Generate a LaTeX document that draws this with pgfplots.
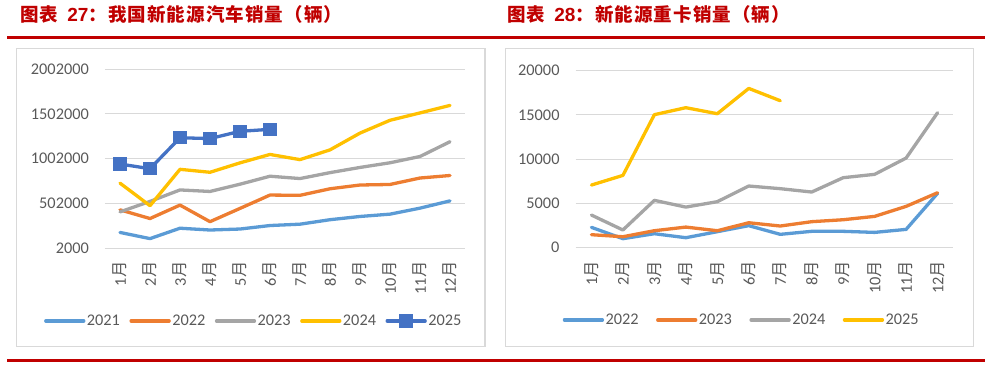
\documentclass[border=0pt]{standalone}
\usepackage{pgfplots}
\pgfplotsset{compat=1.18}
\usepackage{fontspec}
\setmainfont{Carlito}
\newfontfamily\cjk{Noto Sans CJK SC}
\newfontfamily\cjkt{Noto Sans CJK SC}[LetterSpace=6]
\newfontfamily\arialb{Liberation Sans}
\definecolor{titlered}{HTML}{C00000}
\definecolor{boxgray}{HTML}{D9D9D9}
\definecolor{gridgray}{HTML}{D9D9D9}
\definecolor{txtgray}{HTML}{595959}
\definecolor{cA}{HTML}{5B9BD5}
\definecolor{cB}{HTML}{ED7D31}
\definecolor{cC}{HTML}{A5A5A5}
\definecolor{cD}{HTML}{FFC000}
\definecolor{cE}{HTML}{4472C4}
\pgfplotsset{
  common/.style={
    scale only axis, anchor=south west,
    xmin=0.5, xmax=12.5,
    xtick={1,...,12},
    xticklabels={1{\cjk 月},2{\cjk 月},3{\cjk 月},4{\cjk 月},5{\cjk 月},6{\cjk 月},7{\cjk 月},8{\cjk 月},9{\cjk 月},10{\cjk 月},11{\cjk 月},12{\cjk 月}},
    axis line style={draw=none},
    tick style={draw=none},
    major tick length=0pt,
    ymajorgrids,
    grid style={color=gridgray, line width=1pt},
    scaled y ticks=false,
    ticklabel style={font=\fontsize{16.3}{18}\selectfont, text=txtgray, inner sep=0pt},
    xticklabel style={rotate=90, anchor=east},
    xticklabel shift=13pt,
    yticklabel style={anchor=east},
    yticklabel shift=16pt,
    legend columns=5,
    legend cell align=left,
    legend image code/.code={\draw[mark repeat=2,mark phase=2,#1] plot coordinates {(0pt,0pt) (19pt,0pt) (38pt,0pt)};},
    every axis plot/.append style={line width=3.3pt, line join=round, line cap=round},
  }
}
\begin{document}
\begin{tikzpicture}[x=1pt,y=1pt]
\path (0,0) rectangle (989,368);
% red rules
\draw[titlered, line width=3pt] (7,330.5) -- (985,330.5);
\draw[titlered, line width=3pt] (7,7.2) -- (985,7.2);
% boxes
\draw[boxgray, line width=1.3pt] (16.7,319.7) rectangle (485,21.3);
\draw[boxgray, line width=1.3pt] (505.7,319.7) rectangle (973.7,21.3);
% titles
\node[anchor=west, inner sep=0pt, text=titlered, font=\cjkt\bfseries\fontsize{18.5}{20}\selectfont] at (20,353.5)
  {图表\hspace{9pt}{\arialb\bfseries\fontsize{19}{20}\selectfont 27}：我国新能源汽车销量（辆）};
\node[anchor=west, inner sep=0pt, text=titlered, font=\cjkt\bfseries\fontsize{18.5}{20}\selectfont] at (507,353.5)
  {图表\hspace{9pt}{\arialb\bfseries\fontsize{19}{20}\selectfont 28}：新能源重卡销量（辆）};

\begin{axis}[common,
  at={(105pt,119.7pt)}, width=360pt, height=179.3pt,
  ymin=2000, ymax=2002000,
  ytick={2000,502000,1002000,1502000,2002000},
  yticklabels={2000,502000,1002000,1502000,2002000},
  legend style={draw=none, fill=none, at={(0.4125,-0.405)}, anchor=center,
    font=\fontsize{16.3}{18}\selectfont, text=txtgray, inner sep=0pt,
    nodes={inner sep=1.5pt},
    /tikz/every even column/.append style={column sep=8pt}},
]
\addplot[cA] coordinates {(1,179000)(2,110000)(3,226000)(4,206000)(5,217000)(6,256000)(7,271000)(8,321000)(9,357000)(10,383000)(11,450000)(12,531000)};
\addlegendentry{2021}
\addplot[cB] coordinates {(1,431000)(2,334000)(3,484000)(4,299000)(5,447000)(6,596000)(7,593000)(8,666000)(9,708000)(10,714000)(11,786000)(12,814000)};
\addlegendentry{2022}
\addplot[cC] coordinates {(1,408000)(2,525000)(3,653000)(4,636000)(5,717000)(6,806000)(7,780000)(8,846000)(9,904000)(10,956000)(11,1026000)(12,1191000)};
\addlegendentry{2023}
\addplot[cD] coordinates {(1,729000)(2,477000)(3,883000)(4,850000)(5,955000)(6,1049000)(7,991000)(8,1100000)(9,1287000)(10,1430000)(11,1512000)(12,1596000)};
\addlegendentry{2024}
\addplot[cE, mark=square*, mark size=6.2pt, mark options={line width=0pt}] coordinates {(1,942000)(2,890000)(3,1235000)(4,1226000)(5,1307000)(6,1329000)};
\addlegendentry{2025}
\end{axis}

\begin{axis}[common,
  at={(575.7pt,120.3pt)}, width=377.6pt, height=177pt,
  ymin=0, ymax=20000,
  ytick={0,5000,10000,15000,20000},
  yticklabels={0,5000,10000,15000,20000},
  legend style={draw=none, fill=none, at={(0.439,-0.408)}, anchor=center,
    font=\fontsize{16.3}{18}\selectfont, text=txtgray, inner sep=0pt,
    nodes={inner sep=1.5pt},
    /tikz/every even column/.append style={column sep=16pt}},
]
\addplot[cA] coordinates {(1,2300)(2,1020)(3,1580)(4,1130)(5,1810)(6,2490)(7,1510)(8,1850)(9,1850)(10,1730)(11,2070)(12,6140)};
\addlegendentry{2022}
\addplot[cB] coordinates {(1,1470)(2,1240)(3,1920)(4,2330)(5,1920)(6,2820)(7,2450)(8,2940)(9,3160)(10,3540)(11,4670)(12,6210)};
\addlegendentry{2023}
\addplot[cC] coordinates {(1,3690)(2,2000)(3,5350)(4,4590)(5,5200)(6,6970)(7,6670)(8,6290)(9,7910)(10,8290)(11,10130)(12,15250)};
\addlegendentry{2024}
\addplot[cD] coordinates {(1,7080)(2,8170)(3,15030)(4,15820)(5,15140)(6,18000)(7,16610)};
\addlegendentry{2025}
\end{axis}
\end{tikzpicture}
\end{document}
